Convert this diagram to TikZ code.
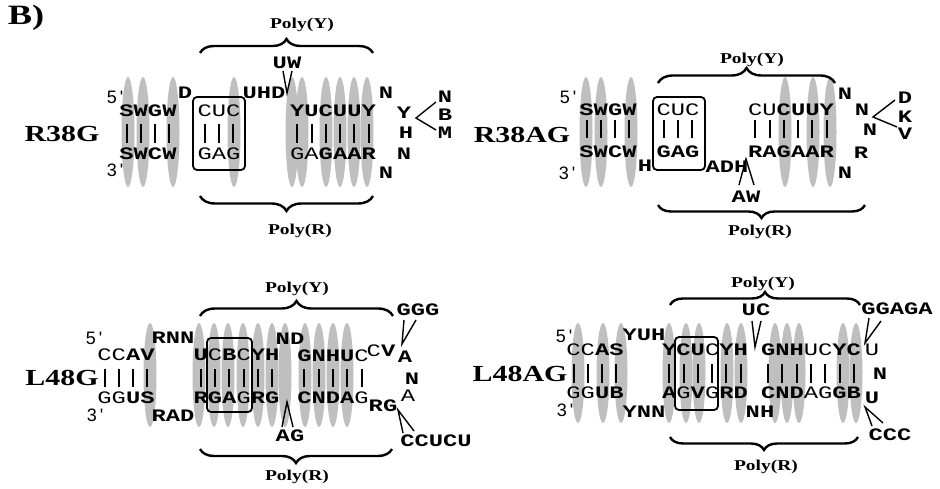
\documentclass[tikz,border=0pt]{standalone}
\usepackage{fontspec}
\usetikzlibrary{decorations.pathreplacing}
\newfontfamily\seqf[FakeStretch=1.36]{Liberation Mono}
\newfontfamily\labf[FakeStretch=1.3]{Liberation Serif}
\newfontfamily\primef{Liberation Sans}
\newcommand\seqfnt{\seqf\fontsize{17.5}{17.5}\selectfont}
\newcommand\lt[1]{{\mdseries #1}}
\newcommand\pr[1]{#1\,\textquotesingle}
\tikzset{
  sb/.style={inner sep=0pt, font=\seqfnt\bfseries},
  sr/.style={inner sep=0pt, font=\seqfnt\mdseries},
  lab/.style={inner sep=0pt, font=\labf\fontsize{23}{23}\selectfont\bfseries},
  poly/.style={inner sep=0pt, font=\labf\fontsize{15}{15}\selectfont\bfseries},
  primelab/.style={inner sep=0pt, font=\primef\fontsize{18}{18}\selectfont},
  blob/.style={fill=black!25, draw=none},
  pairbox/.style={draw, line width=1.8pt, rounded corners=4pt},
  pairbar/.style={line width=2pt},
  conn/.style={line width=1.4pt},
  brc/.style={decorate, decoration={brace, amplitude=#1}, line width=2.4pt},
  brc/.default=14
}
\begin{document}
\begin{tikzpicture}[x=1pt,y=-1pt]
\useasboundingbox (0,0) rectangle (940,489);
% ---------- shading blobs ----------
\foreach \x in {128,143,173,234,292,302,326,340,354,367}
  \fill[blob] (\x,132) ellipse [x radius=6.5, y radius=55];
\foreach \x in {586,601,631,785,813,830}
  \fill[blob] (\x,132) ellipse [x radius=6.5, y radius=55];
\foreach \x in {150,199,214,228,243,258,272,285,305,319,333,347}
  \fill[blob] (\x,375) ellipse [x radius=6.5, y radius=52];
\foreach \x in {578,603,621,669,686,699,727,741,775,787,799,843,856}
  \fill[blob] (\x,373) ellipse [x radius=6.5, y radius=50];

% ================= Panel R38G =================
\node[lab, font=\labf\fontsize{28}{28}\selectfont\bfseries] (bl) at (26,18) {B)};
\node[lab] (r38g) at (62,134) {R38G};
\node[primelab] (p1five) at (115,97) {\pr{5}};
\node[primelab] (p1three) at (115,170) {\pr{3}};
\node[sb] (p1t1) at (148,111) {SWGW};
\node[sb] (p1b1) at (148,154) {SWCW};
\node[sb] (p1d) at (185,93) {D};
\node[sr] (p1t2) at (219,111) {CUC};
\node[sr] (p1b2) at (219,154) {GAG};
\node[sb] (p1uhd) at (264,93) {UHD};
\node[sb] (p1uw) at (287,63) {UW};
\node[sb] (p1t3) at (333,111) {YUCUUY};
\node[sb] (p1b3) at (333,154) {\lt{GA}GAAR};
\node[sb] (p1n1) at (386,93) {N};
\node[sb] (p1y) at (404,113) {Y};
\node[sb] (p1h) at (406,133) {H};
\node[sb] (p1n2) at (404,154) {N};
\node[sb] (p1n3) at (386,173) {N};
\node[sb] (p1nn) at (445,97) {N};
\node[sb] (p1bb) at (445,115) {B};
\node[sb] (p1mm) at (445,133) {M};
\node[poly] (p1py) at (302,25) {Poly(Y)};
\node[poly] (p1pr) at (300,231) {Poly(R)};
\draw[pairbox] (193,97) rectangle (245,170);
\foreach \x/\n in {126.5/4,204.7/3,297.25/6}
  \foreach \i in {1,...,\n} \draw[pairbar] ({\x+(\i-1)*14.3},124) -- ++(0,19);
\draw[brc=14] (200,53) -- (373,53);
\draw[brc=15] (373,196) -- (200,196);
\coordinate (p1va) at (283,71); \coordinate (p1vb) at (292,71); \coordinate (p1vc) at (287,93);
\draw[conn] (p1va) -- (p1vc) -- (p1vb);
\coordinate (p1ka) at (436,102); \coordinate (p1kb) at (416,118); \coordinate (p1kc) at (436,130);
\draw[conn] (p1ka) -- (p1kb) -- (p1kc);

% ================= Panel R38AG =================
\node[lab] (r38ag) at (522,135) {R38AG};
\node[primelab] (p2five) at (568,97) {\pr{5}};
\node[primelab] (p2three) at (567,173) {\pr{3}};
\node[sb] (p2t1) at (608,110) {SWGW};
\node[sb] (p2b1) at (608,152) {SWCW};
\node[sb] (p2h) at (645,166) {H};
\node[sr] (p2t2) at (678,110) {CUC};
\node[sb] (p2b2) at (678,152) {GAG};
\node[sb] (p2adh) at (727,167) {ADH};
\node[sb] (p2t3) at (791,110) {\lt{CU}CUUY};
\node[sb] (p2b3) at (791,152) {RAGAAR};
\node[sb] (p2aw) at (746,197) {AW};
\node[sb] (p2n1) at (845,94) {N};
\node[sb] (p2n2) at (862,110) {N};
\node[sb] (p2n3) at (870,130) {N};
\node[sb] (p2r) at (861,153) {R};
\node[sb] (p2n4) at (845,173) {N};
\node[sb] (p2dd) at (905,98) {D};
\node[sb] (p2kk) at (905,117) {K};
\node[sb] (p2vv) at (905,134) {V};
\node[poly] (p2py) at (752,60) {Poly(Y)};
\node[poly] (p2pr) at (760,232) {Poly(R)};
\draw[pairbox] (653,97) rectangle (705,170);
\foreach \x/\n in {586.5/4,663.7/3,755.25/6}
  \foreach \i in {1,...,\n} \draw[pairbar] ({\x+(\i-1)*14.3},120) -- ++(0,18);
\draw[brc=15] (658,83) -- (835,83);
\draw[brc=13] (865,205) -- (658,205);
\coordinate (p2va) at (739,185); \coordinate (p2vb) at (746,159); \coordinate (p2vc) at (754,185);
\draw[conn] (p2va) -- (p2vb) -- (p2vc);
\coordinate (p2ka) at (895,100); \coordinate (p2kb) at (873,117); \coordinate (p2kc) at (897,127);
\draw[conn] (p2ka) -- (p2kb) -- (p2kc);

% ================= Panel L48G =================
\node[lab] (l48g) at (62,378) {L48G};
\node[primelab] (p3five) at (94,338) {\pr{5}};
\node[primelab] (p3three) at (95,415) {\pr{3}};
\node[sb] (p3t1) at (126,355) {\lt{CC}AV};
\node[sb] (p3b1) at (126,398) {\lt{GG}US};
\node[sb] (p3rnn) at (173,338) {RNN};
\node[sb] (p3rad) at (173,416) {RAD};
\node[sb] (p3t2) at (236.5,355) {U\lt{C}B\lt{C}YH};
\node[sb] (p3b2) at (236.5,398) {RGA\lt{G}RG};
\node[sb] (p3nd) at (290,339) {ND};
\node[sb] (p3t3) at (333,356) {GNHU\lt{C}};
\node[sb] (p3cv) at (381,351) {\lt{C}V};
\node[sb] (p3a1) at (405,357) {A};
\node[sb] (p3n) at (412,379) {N};
\node[sr] (p3a2) at (408,396) {A};
\node[sb] (p3rg) at (383,406) {RG};
\node[sb] (p3b3) at (333,398) {CNDA\lt{G}};
\node[sb] (p3ggg) at (418,310) {GGG};
\node[sb] (p3ag) at (290,436) {AG};
\node[sb] (p3cc) at (436,441) {CCUCU};
\node[poly] (p3py) at (297,289) {Poly(Y)};
\node[poly] (p3pr) at (297,477) {Poly(R)};
\draw[pairbox] (207,338) rectangle (252,412);
\foreach \x/\n in {104.5/4,200.75/6,304.4/5}
  \foreach \i in {1,...,\n} \draw[pairbar] ({\x+(\i-1)*14.3},369) -- ++(0,18);
\draw[brc=15] (200,316) -- (393,316);
\draw[brc=14] (392,449) -- (200,449);
\coordinate (p3ga) at (404,320); \coordinate (p3gb) at (402,344); \coordinate (p3gc) at (416,320);
\draw[conn] (p3ga) -- (p3gb) -- (p3gc);
\coordinate (p3aa) at (282,427); \coordinate (p3ab) at (287,402); \coordinate (p3ac) at (293,427);
\draw[conn] (p3aa) -- (p3ab) -- (p3ac);
\coordinate (p3ca) at (403,433); \coordinate (p3cb) at (398,410); \coordinate (p3cc2) at (414,431);
\draw[conn] (p3ca) -- (p3cb) -- (p3cc2);

% ================= Panel L48AG =================
\node[lab] (l48ag) at (520,374) {L48AG};
\node[primelab] (p4five) at (564,336) {\pr{5}};
\node[primelab] (p4three) at (565,410) {\pr{3}};
\node[sb] (p4t1) at (595,350) {\lt{CC}AS};
\node[sb] (p4b1) at (595,393) {\lt{GG}UB};
\node[sb] (p4yuh) at (644,335) {YUH};
\node[sb] (p4ynn) at (644,412) {YNN};
\node[sb] (p4t2) at (705,350) {YCU\lt{C}YH};
\node[sb] (p4b2) at (705,393) {A\lt{G}V\lt{G}RD};
\node[sb] (p4uc) at (756,310) {UC};
\node[sb] (p4t3) at (811,350) {GNH\lt{UC}YC};
\node[sb] (p4b3) at (811,393) {CND\lt{AG}GB};
\node[sb] (p4nh) at (760,412) {NH};
\node[sr] (p4u1) at (872,350) {U};
\node[sb] (p4n) at (880,374) {N};
\node[sb] (p4u2) at (872,398) {U};
\node[sb] (p4gg) at (897,309) {GGAGA};
\node[sb] (p4cc) at (890,435) {CCC};
\node[poly] (p4py) at (763,284) {Poly(Y)};
\node[poly] (p4pr) at (766,467) {Poly(R)};
\draw[pairbox] (675,337) rectangle (718,410);
\foreach \x/\n in {573.5/4,669.25/6,768.1/7}
  \foreach \i in {1,...,\n} \draw[pairbar] ({\x+(\i-1)*14.3},364) -- ++(0,19);
\draw[brc=13] (670,305) -- (860,305);
\draw[brc=13] (858,437) -- (670,437);
\coordinate (p4ua) at (752,321); \coordinate (p4ub) at (755,347); \coordinate (p4uc2) at (761,321);
\draw[conn] (p4ua) -- (p4ub) -- (p4uc2);
\coordinate (p4ga) at (869,318); \coordinate (p4gb) at (865,343); \coordinate (p4gc) at (881,321);
\draw[conn] (p4ga) -- (p4gb) -- (p4gc);
\coordinate (p4ca) at (872,426); \coordinate (p4cb) at (865,407); \coordinate (p4cc2) at (883,423);
\draw[conn] (p4ca) -- (p4cb) -- (p4cc2);
\end{tikzpicture}
\end{document}
